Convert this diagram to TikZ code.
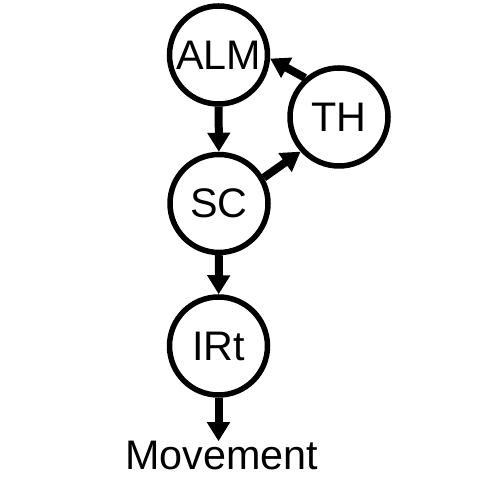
\documentclass[tikz,border=0pt]{standalone}
\usepackage{fontspec}
\setmainfont{Liberation Sans}
\usetikzlibrary{arrows.meta,positioning}

\begin{document}
\begin{tikzpicture}[font=\fontsize{23.5}{27}\selectfont,
  area/.style={draw,circle,line width=0.11cm,minimum size=1.96cm,inner sep=0pt},
  link/.style={line width=0.16cm,-{Triangle[width=0.44cm,length=0.38cm]}}]
\useasboundingbox (0,0) rectangle (10,10);
\node[area] (ALM) at (4.37,8.9) {ALM};
\node[area] (TH) at (6.78,7.66) {TH};
\node[area] (SC) at (4.38,5.93) {SC};
\node[area] (IRt) at (4.37,3.08) {IRt};
\node[inner sep=0pt,anchor=base] (mov) at (4.43,0.6) {Movement};
\draw[link] (ALM) -- (SC);
\draw[link] (SC) -- (IRt);
\draw[link] (IRt) -- (IRt |- mov.north);
\draw[link] (SC.30) -- (TH.222);
\draw[link] (TH.131) -- (ALM.356);
\end{tikzpicture}
\end{document}
